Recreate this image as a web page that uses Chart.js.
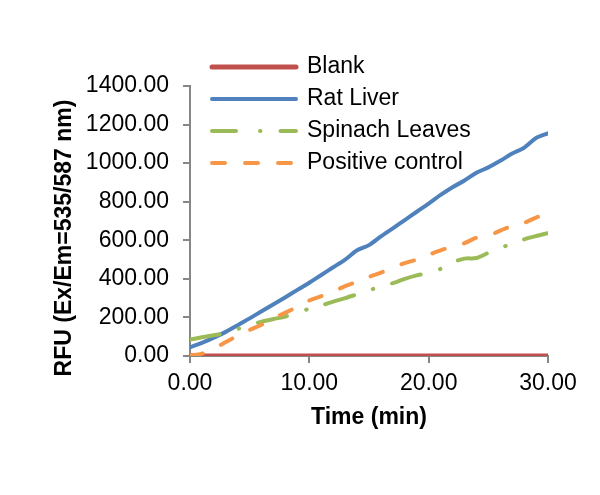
<!DOCTYPE html>
<html>
<head>
<meta charset="utf-8">
<script src="https://cdn.jsdelivr.net/npm/chart.js@4"></script>
<style>
  html, body { margin: 0; padding: 0; background: #fff; }
</style>
</head>
<body>
<canvas id="chart" width="600" height="495"></canvas>
<script>
const time = [0, 1, 2, 3, 4, 5, 6, 7, 8, 9, 10, 11, 12, 13, 14, 15, 16, 17, 18, 19, 20, 21, 22, 23, 24, 25, 26, 27, 28, 29, 30];
const blank = [0, 0, 0, 0, 0, 0, 0, 0, 0, 0, 0, 0, 0, 0, 0, 0, 0, 0, 0, 0, 0, 0, 0, 0, 0, 0, 0, 0, 0, 0, 0];
const ratLiver = [45, 68, 95, 125, 160, 195, 232, 268, 305, 343, 380, 420, 460, 500, 548, 575, 620, 662, 705, 748, 790, 835, 875, 910, 950, 978, 1012, 1050, 1080, 1130, 1155];
const spinach = [85, 97, 108, 120, 140, 160, 178, 192, 205, 225, 245, 262, 282, 300, 320, 340, 362, 378, 400, 418, 432, 452, 485, 505, 508, 535, 560, 583, 605, 622, 637];
const positive = [2, 12, 38, 72, 105, 135, 162, 195, 225, 255, 288, 310, 335, 362, 385, 410, 432, 458, 482, 500, 525, 548, 568, 585, 613, 624, 650, 675, 690, 718, 735];

const seriesNames = ['Blank', 'Rat Liver', 'Spinach Leaves', 'Positive control'];
const yTitle = 'RFU (Ex/Em=535/587 nm)';
const xTitle = 'Time (min)';

const FONT = "'Liberation Sans', Arial, sans-serif";
const axisGray = '#868686';

function points(values) {
  return values.map((v, i) => ({x: time[i], y: v}));
}

// legend sits inside the plot, plus the y title that is not centred on the plot
const overlay = {
  id: 'overlay',
  afterDraw(chart) {
    const ctx = chart.ctx;
    ctx.save();
    chart.data.datasets.forEach((ds, i) => {
      const y = 67 + i * 32;
      ctx.beginPath();
      ctx.strokeStyle = ds.borderColor;
      ctx.lineWidth = ds.borderWidth;
      ctx.lineCap = 'round';
      ctx.setLineDash(ds.legendDash || []);
      ctx.moveTo(212, y);
      ctx.lineTo(296, y);
      ctx.stroke();
      ctx.setLineDash([]);
      ctx.fillStyle = '#000';
      ctx.font = '23px ' + FONT;
      ctx.textBaseline = 'middle';
      ctx.textAlign = 'left';
      ctx.fillText(ds.label, 307, y);
    });
    ctx.translate(65, 238);
    ctx.rotate(-Math.PI / 2);
    ctx.font = 'bold 23px ' + FONT;
    ctx.textAlign = 'center';
    ctx.textBaseline = 'middle';
    ctx.fillStyle = '#000';
    ctx.fillText(yTitle, 0, 0);
    ctx.restore();
  }
};

new Chart(document.getElementById('chart'), {
  type: 'line',
  data: {
    datasets: [
      {label: seriesNames[0], data: points(blank), borderColor: '#C0504D', borderWidth: 5, order: 4},
      {label: seriesNames[1], data: points(ratLiver), borderColor: '#4F81BD', borderWidth: 4, order: 3},
      {label: seriesNames[2], data: points(spinach), borderColor: '#9BBB59', borderWidth: 4, order: 2,
        borderDash: [30, 20, 0.5, 19.5], legendDash: [24, 24, 0.5, 20]},
      {label: seriesNames[3], data: points(positive), borderColor: '#F79646', borderWidth: 4, order: 1,
        borderDash: [13, 20], legendDash: [13, 20]}
    ]
  },
  options: {
    responsive: false,
    animation: false,
    devicePixelRatio: 1,
    layout: {padding: {left: 0, top: 86, right: 52, bottom: 0}},
    elements: {
      point: {radius: 0},
      line: {tension: 0.3, borderCapStyle: 'round', borderJoinStyle: 'round', fill: false}
    },
    plugins: {
      legend: {display: false},
      tooltip: {enabled: false}
    },
    scales: {
      x: {
        type: 'linear',
        min: 0,
        max: 30,
        afterFit: s => { s.height = 139; },
        ticks: {
          stepSize: 10,
          color: '#000',
          font: {family: FONT, size: 23},
          padding: 7,
          callback: v => v.toFixed(2)
        },
        grid: {drawOnChartArea: false, drawTicks: true, tickLength: 7, color: axisGray, lineWidth: 2},
        border: {color: axisGray, width: 2},
        title: {
          display: true,
          text: xTitle,
          color: '#000',
          font: {family: FONT, size: 23, weight: 'bold'},
          padding: {top: 0, bottom: 64}
        }
      },
      y: {
        min: 0,
        max: 1400,
        afterFit: s => { s.width = 190; },
        ticks: {
          stepSize: 200,
          color: '#000',
          font: {family: FONT, size: 23},
          padding: 14,
          callback: v => v.toFixed(2)
        },
        grid: {drawOnChartArea: false, drawTicks: true, tickLength: 7, color: axisGray, lineWidth: 2},
        border: {color: axisGray, width: 2}
      }
    }
  },
  plugins: [overlay]
});
</script>
</body>
</html>
